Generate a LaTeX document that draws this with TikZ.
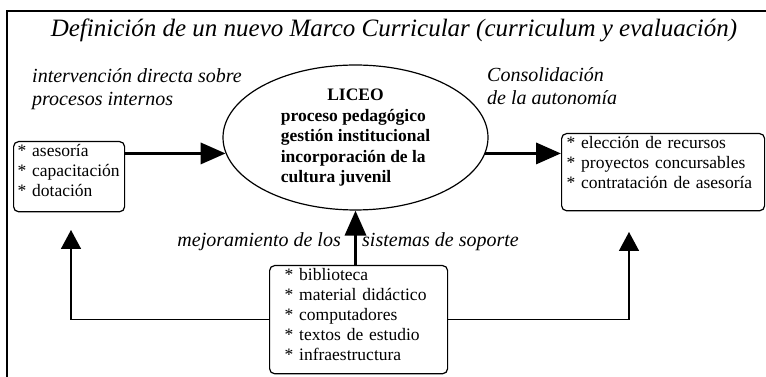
\documentclass[tikz,border=0pt]{standalone}
\usepackage{fontspec}
\setmainfont{Liberation Serif}
\usepackage{tikz}
\usetikzlibrary{shapes,arrows,positioning,calc,arrows.meta}

\begin{document}
\begin{tikzpicture}[x=1pt, y=1pt,
    note/.style={align=left, inner sep=0pt, font=\fontsize{20}{23}\selectfont\itshape},
    listbox/.style={draw, rounded corners=5pt, line width=1.2pt, align=left, inner ysep=3pt, font=\fontsize{17.5}{20}\selectfont},
    bigarrow/.style={line width=3.5pt, -{Triangle[length=25pt, width=21pt]}},
    thinarrow/.style={line width=1.5pt, -{Triangle[length=19pt, width=20pt]}}]
            % Frame
            \useasboundingbox (0,0) rectangle (766,377);
            \draw[line width=1.5pt] (7,0) -- (7,366) -- (766,366);

            % Title and side notes
            \node[note, anchor=base, font=\fontsize{25}{30}\selectfont\itshape] (title) at (394,340) {Definición de un nuevo Marco Curricular (curriculum y evaluación)};
            \node[note, anchor=base west] (internal) at (32,271) {intervención directa sobre\\procesos internos};
            \node[note, anchor=base west] (autonomy) at (487,272) {Consolidación\\de la autonomía};

            % Liceo
            \node[draw, ellipse, line width=1.2pt, minimum width=265pt, minimum height=129pt, inner sep=0pt,
                  font=\fontsize{17.5}{20.5}\selectfont\bfseries] (liceo) at (355.5,239.5)
                  {\begin{tabular}{@{}l@{}}\multicolumn{1}{c}{LICEO}\\proceso pedagógico\\gestión institucional\\incorporación de la\\cultura juvenil\end{tabular}};

            % Boxes
            \node[listbox, anchor=north west, text width=103pt, inner xsep=4pt, text depth=52pt] (support) at (13,236)
                  {{*} asesoría\\{*} capacitación\\{*} dotación};
            \node[listbox, anchor=north west, text width=193pt, inner xsep=5pt, text depth=59pt] (resources) at (561,244)
                  {{*} elección de recursos\\{*} proyectos concursables\\{*} contratación de asesoría};
            \node[listbox, anchor=north west, text width=148pt, inner xsep=15pt, text depth=90pt] (systems) at (269,112)
                  {{*} biblioteca\\{*} material didáctico\\{*} computadores\\{*} textos de estudio\\{*} infraestructura};

            % Arrows
            \draw[bigarrow] (support.east |- liceo.187) -- (liceo.187);
            \draw[bigarrow] (liceo.353) -- (resources.west |- liceo.353);
            \draw[bigarrow] (systems.north -| liceo.south) -- (liceo.south);
            \node[note, anchor=base east] (improve) at (341,130) {mejoramiento de los};
            \node[note, anchor=base west] (soporte) at (362,130) {sistemas de soporte};

            \coordinate (lefttip) at (71,147);
            \coordinate (righttip) at (629,145);
            \draw[thinarrow] (systems.west) -| (lefttip);
            \draw[thinarrow] (systems.east) -| (righttip);
        \end{tikzpicture}
\end{document}
